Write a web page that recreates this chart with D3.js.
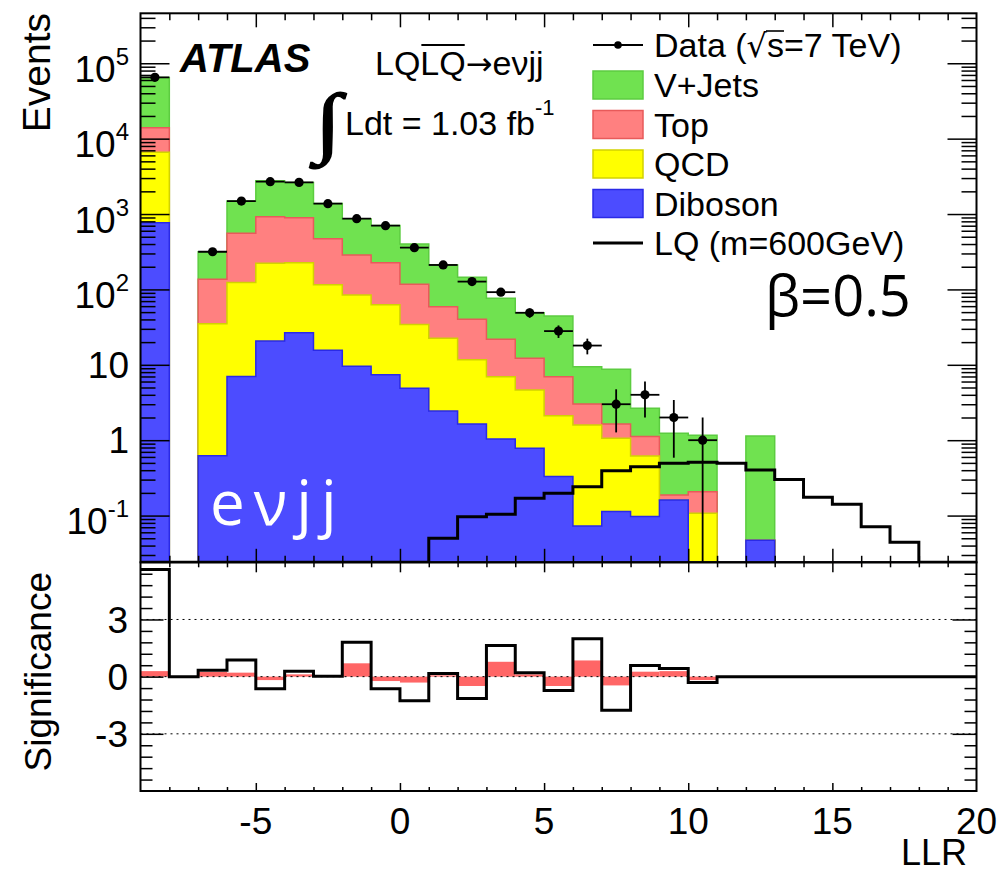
<!DOCTYPE html>
<html>
<head>
<meta charset="utf-8">
<script src="https://cdn.jsdelivr.net/npm/d3@7"></script>
<style>
  body { margin: 0; background: #fff; }
  text { font-family: "Liberation Sans", Arial, Helvetica, sans-serif; fill: #000; }
</style>
</head>
<body>
<div id="chart"></div>
<script>
const width = 999;
const height = 873;

// lower edge of each LLR bin (bins are 1 unit wide, last one ends at 20)
const binLow = [-9, -8, -7, -6, -5, -4, -3, -2, -1, 0, 1, 2, 3, 4, 5, 6, 7, 8, 9, 10,
                11, 12, 13, 14, 15, 16, 17, 18, 19];

// background expectations per bin (events)
const diboson = [767, 0, 0.62, 7.0, 20.7, 26.7, 15.6, 9.55, 7.4, 4.88, 2.44, 1.64, 1.04, 0.78, 0.33,
                 0.073, 0.113, 0.097, 0.161, 0, 0, 0.047, 0, 0, 0, 0, 0, 0, 0];
const qcd     = [5810, 0, 34.5, 117, 201, 199, 100, 74.8, 55.3, 29.5, 20.0, 10.0, 5.9, 3.85, 1.78,
                 1.52, 0.95, 0.52, 0, 0.107, 0, 0, 0, 0, 0, 0, 0, 0, 0];
const topBkg  = [7380, 0, 101, 430, 699, 668, 355, 202, 163, 82.6, 36.6, 28.5, 14.9, 7.6, 4.84,
                 1.43, 0.58, 0.50, 0.027, 0.10, 0, 0, 0, 0, 0, 0, 0, 0, 0];
const vjets   = [51000, 0, 180, 933, 1847, 1736, 914, 572, 481, 283, 152, 105, 54.4, 36.9, 37.5,
                 6.4, 7.1, 1.54, 1.05, 0.96, 0, 1.09, 0, 0, 0, 0, 0, 0, 0];

// observed events
const dataCounts = [65000, 0, 316, 1487, 2685, 2630, 1371, 867, 700, 358, 211, 127, 92, 49, 28,
                    18, 3, 4, 2, 1, 0, 0, 0, 0, 0, 0, 0, 0, 0];

// LQ signal, m = 600 GeV
const lqSignal = [0, 0, 0, 0, 0, 0, 0, 0, 0, 0, 0.050, 0.0968, 0.104, 0.170, 0.198,
                  0.242, 0.394, 0.446, 0.493, 0.508, 0.493, 0.403, 0.30, 0.175, 0.141,
                  0.0713, 0.0442, 0, 0];

// significance panel
const significance = [5.62, 0, 0.33, 0.87, -0.63, 0.28, 0.02, 1.81, -0.63, -1.26, 0.16, -1.15, 1.64, 0.20,
                      -0.73, 1.99, -1.76, 0.59, 0.43, -0.31, 0, 0, 0, 0, 0, 0, 0, 0, 0];
const sigBand      = [0.29, 0, 0.25, 0.21, -0.18, 0.12, 0.03, 0.70, -0.23, -0.31, 0.07, -0.49, 0.78, 0.12,
                      -0.49, 0.85, -0.46, 0.26, 0.29, -0.18, 0, 0, 0, 0, 0, 0, 0, 0, 0];

const xLabels = [-5, 0, 5, 10, 15, 20];
const logLabels = [
  { v: 0.1, base: "10", sup: "-1" },
  { v: 1, base: "1" },
  { v: 10, base: "10" },
  { v: 100, base: "10", sup: "2" },
  { v: 1000, base: "10", sup: "3" },
  { v: 10000, base: "10", sup: "4" },
  { v: 100000, base: "10", sup: "5" }
];
const sigLabels = [3, 0, -3];

const legendRows = [
  { label: "Data", kind: "data" },
  { label: "V+Jets", key: "vjets" },
  { label: "Top", key: "top" },
  { label: "QCD", key: "qcd" },
  { label: "Diboson", key: "diboson" },
  { label: "LQ (m=600GeV)", kind: "line" }
];

const fills   = { vjets: "#70e250", top: "#ff8080", qcd: "#ffff00", diboson: "#4c4cff" };
const strokes = { vjets: "#5ccc40", top: "#e85a5a", qcd: "#d2d200", diboson: "#2a2ae6" };

// frame geometry
const fL = 140.5, fR = 976.5, fT = 13.3, fM = 562.3, fB = 791;

const svg = d3.select("#chart").append("svg")
    .attr("width", width)
    .attr("height", height);

svg.append("rect").attr("width", width).attr("height", height).attr("fill", "#fff");

const x = d3.scaleLinear().domain([-9, 20]).range([fL, fR]);
const y = d3.scaleLog().domain([0.024, 4.6e5]).range([fM, fT]).clamp(true);
const ys = d3.scaleLinear().domain([-6, 6]).range([fB, fM]);
const yv = v => v > 0 ? y(v) : fM;

svg.append("clipPath").attr("id", "clipTop")
  .append("rect").attr("x", fL).attr("y", fT).attr("width", fR - fL).attr("height", fM - fT);
svg.append("clipPath").attr("id", "clipBot")
  .append("rect").attr("x", fL).attr("y", fM).attr("width", fR - fL).attr("height", fB - fM);

const upper = svg.append("g").attr("clip-path", "url(#clipTop)");
const lower = svg.append("g").attr("clip-path", "url(#clipBot)");

// step points: one per bin plus closing edge at 20
const stepPts = vals => binLow.map((b, i) => [b, vals[i]]).concat([[20, vals[vals.length - 1]]]);

// stacked backgrounds
const table = binLow.map((b, i) => ({
  b, diboson: diboson[i], qcd: qcd[i], top: topBkg[i], vjets: vjets[i]
}));
const stacked = d3.stack().keys(["diboson", "qcd", "top", "vjets"])(table);

const area = d3.area()
    .curve(d3.curveStepAfter)
    .x(d => x(d[0]))
    .y0(fM)
    .y1(d => yv(d[1]));

stacked.slice().reverse().forEach(s => {
  const cum = s.map(d => d[1] > 1e-9 ? d[1] : 0);
  upper.append("path")
    .datum(stepPts(cum))
    .attr("d", area)
    .attr("fill", fills[s.key])
    .attr("stroke", strokes[s.key])
    .attr("stroke-width", 1.5);
});

// channel label inside the plot
upper.append("text")
  .attr("x", 210).attr("y", 525)
  .style("font-family", "'Open Sans', 'Noto Sans', sans-serif")
  .style("fill", "#fff")
  .style("letter-spacing", "9px")
  .attr("font-size", 62)
  .text("eνjj");

// LQ signal outline
const line = d3.line().curve(d3.curveStepAfter).x(d => x(d[0])).y(d => yv(d[1]));
upper.append("path")
  .datum(stepPts(lqSignal))
  .attr("d", line)
  .attr("fill", "none")
  .attr("stroke", "#000")
  .attr("stroke-width", 3);

// data points with poisson errors
const pts = binLow.map((b, i) => ({ b, n: dataCounts[i] })).filter(d => d.n > 0);
const dataG = upper.append("g");
dataG.selectAll(".xerr").data(pts).enter().append("line")
  .attr("x1", d => x(d.b)).attr("x2", d => x(d.b + 1))
  .attr("y1", d => y(d.n)).attr("y2", d => y(d.n))
  .attr("stroke", "#000").attr("stroke-width", 1.8);
dataG.selectAll(".yerr").data(pts).enter().append("line")
  .attr("x1", d => x(d.b + 0.5)).attr("x2", d => x(d.b + 0.5))
  .attr("y1", d => y(d.n + Math.sqrt(d.n))).attr("y2", d => yv(d.n - Math.sqrt(d.n)))
  .attr("stroke", "#000").attr("stroke-width", 1.8);
dataG.selectAll("circle").data(pts).enter().append("circle")
  .attr("cx", d => x(d.b + 0.5)).attr("cy", d => y(d.n))
  .attr("r", 4.6).attr("fill", "#000");

// lower panel: band, reference lines, significance outline
binLow.forEach((b, i) => {
  const v = sigBand[i];
  if (v === 0) return;
  lower.append("rect")
    .attr("x", x(b)).attr("width", x(b + 1) - x(b))
    .attr("y", ys(Math.max(0, v))).attr("height", Math.abs(ys(v) - ys(0)))
    .attr("fill", "#ff6666");
});
[-3, 0, 3].forEach(v => {
  lower.append("line")
    .attr("x1", fL).attr("x2", fR).attr("y1", ys(v)).attr("y2", ys(v))
    .attr("stroke", "#000").attr("stroke-width", 1).attr("stroke-dasharray", "2,4");
});
const sigLine = d3.line().curve(d3.curveStepAfter).x(d => x(d[0])).y(d => ys(d[1]));
lower.append("path")
  .datum(stepPts(significance))
  .attr("d", sigLine)
  .attr("fill", "none")
  .attr("stroke", "#000")
  .attr("stroke-width", 3);

// ticks
function ticks(gen, tx, ty, vals, size) {
  svg.append("g")
    .attr("transform", `translate(${tx},${ty})`)
    .call(gen.tickValues(vals).tickSize(size).tickFormat(""))
    .call(g => g.select(".domain").remove())
    .selectAll("line").attr("stroke", "#000").attr("stroke-width", 1.5);
}
const xMajor = [-5, 0, 5, 10, 15];
const xMinor = x.ticks(29).filter(v => v % 5 !== 0 && v > -9 && v < 20);
const logAll = y.ticks();
const logMajor = logAll.filter(v => Math.abs(Math.log10(v) - Math.round(Math.log10(v))) < 1e-6);
const logMinor = logAll.filter(v => !logMajor.includes(v));
const sigMajor = [-3, 0, 3];
const sigMinor = d3.range(-9, 10).map(k => +(k * 0.6).toFixed(1)).filter(v => !sigMajor.includes(v));

ticks(d3.axisBottom(x), 0, fM, xMajor, -13.5);
ticks(d3.axisBottom(x), 0, fM, xMinor, -6.5);
ticks(d3.axisTop(x), 0, fT, xMajor, -14);
ticks(d3.axisTop(x), 0, fT, xMinor, -7);
ticks(d3.axisLeft(y), fL, 0, logMajor, -29);
ticks(d3.axisLeft(y), fL, 0, logMinor, -15);
ticks(d3.axisRight(y), fR, 0, logMajor, -29);
ticks(d3.axisRight(y), fR, 0, logMinor, -15);

ticks(d3.axisTop(x), 0, fM, xMajor, -10);
ticks(d3.axisTop(x), 0, fM, xMinor, -5);
ticks(d3.axisBottom(x), 0, fB, xMajor, -8);
ticks(d3.axisBottom(x), 0, fB, xMinor, -4);
ticks(d3.axisLeft(ys), fL, 0, sigMajor, -23);
ticks(d3.axisLeft(ys), fL, 0, sigMinor, -12);
ticks(d3.axisRight(ys), fR, 0, sigMajor, -24);
ticks(d3.axisRight(ys), fR, 0, sigMinor, -12);

// frames
svg.append("rect").attr("x", fL).attr("y", fT).attr("width", fR - fL).attr("height", fM - fT)
  .attr("fill", "none").attr("stroke", "#000").attr("stroke-width", 2);
svg.append("rect").attr("x", fL).attr("y", fM).attr("width", fR - fL).attr("height", fB - fM)
  .attr("fill", "none").attr("stroke", "#000").attr("stroke-width", 2);

// tick labels
logLabels.forEach(d => {
  const t = svg.append("text")
    .attr("x", 129)
    .attr("y", y(d.v) + (d.sup ? 18.5 : 13.3))
    .attr("text-anchor", "end")
    .attr("font-size", 37);
  t.append("tspan").text(d.base);
  if (d.sup) t.append("tspan").attr("dy", -17).attr("font-size", 24).text(d.sup);
});
sigLabels.forEach(v => {
  svg.append("text")
    .attr("x", 128).attr("y", ys(v) + 13.3)
    .attr("text-anchor", "end").attr("font-size", 37)
    .text(v);
});
xLabels.forEach(v => {
  svg.append("text")
    .attr("x", x(v)).attr("y", 834)
    .attr("text-anchor", "middle").attr("font-size", 37)
    .text(v);
});

// axis titles
svg.append("text").attr("transform", "translate(50,13) rotate(-90)")
  .attr("text-anchor", "end").attr("font-size", 39).text("Events");
svg.append("text").attr("transform", "translate(51,572) rotate(-90)")
  .attr("text-anchor", "end").attr("font-size", 37).text("Significance");
svg.append("text").attr("x", 967).attr("y", 865)
  .attr("text-anchor", "end").attr("font-size", 36).text("LLR");

// ATLAS label and process
svg.append("text").attr("x", 180).attr("y", 72)
  .attr("font-size", 40).attr("font-weight", "bold").attr("font-style", "italic").text("ATLAS");

const proc = svg.append("text").attr("x", 375).attr("y", 75).attr("font-size", 34);
proc.append("tspan").text("LQ");
proc.append("tspan").text("LQ");
proc.append("tspan").style("font-family", "'DejaVu Sans', sans-serif").attr("font-size", 32).text("→");
proc.append("tspan").text("eνjj");
{
  const node = proc.node();
  const x0 = node.getStartPositionOfChar(2).x;
  const x1 = node.getEndPositionOfChar(3).x;
  svg.append("line").attr("x1", x0 + 1).attr("x2", x1 - 1).attr("y1", 45).attr("y2", 45)
    .attr("stroke", "#000").attr("stroke-width", 2.2);
}

svg.append("text").attr("transform", "translate(315,148) scale(1.25,1)")
  .style("font-family", "'Liberation Serif', 'DejaVu Serif', serif")
  .style("stroke", "#000").style("stroke-width", 1.4)
  .attr("font-size", 78).text("∫");
const lumi = svg.append("text").attr("x", 345).attr("y", 135).attr("font-size", 34);
lumi.append("tspan").text("Ldt = 1.03 fb");
lumi.append("tspan").attr("dy", -20).attr("font-size", 22).text("-1");

svg.append("text").attr("x", 765).attr("y", 316)
  .style("font-family", "'Open Sans', 'Noto Sans', sans-serif")
  .attr("font-size", 56).text("β=0.5");

// legend
const legend = svg.append("g");
const rowY = [45, 85, 124.5, 164, 203.5, 243];
legendRows.forEach((r, i) => {
  const cy = rowY[i];
  if (r.kind === "data") {
    legend.append("line").attr("x1", 593).attr("x2", 643).attr("y1", cy).attr("y2", cy)
      .attr("stroke", "#000").attr("stroke-width", 1.8);
    legend.append("circle").attr("cx", 618).attr("cy", cy).attr("r", 3.8).attr("fill", "#000");
  } else if (r.kind === "line") {
    legend.append("line").attr("x1", 593).attr("x2", 643).attr("y1", cy).attr("y2", cy)
      .attr("stroke", "#000").attr("stroke-width", 3);
  } else {
    legend.append("rect").attr("x", 593).attr("y", cy - 14).attr("width", 50).attr("height", 28)
      .attr("fill", fills[r.key]).attr("stroke", strokes[r.key]).attr("stroke-width", 1.5);
  }
  const t = legend.append("text").attr("x", 654).attr("y", cy + 12).attr("font-size", 34);
  if (r.kind === "data") {
    t.append("tspan").text("Data (");
    t.append("tspan").style("font-family", "'DejaVu Sans', sans-serif").attr("font-size", 32).text("√");
    t.append("tspan").text("s");
    t.append("tspan").text("=7 TeV)");
    const node = t.node();
    const n0 = "Data (√".length;
    const xa = node.getEndPositionOfChar(n0 - 1).x - 1;
    const xb = node.getEndPositionOfChar(n0).x;
    legend.append("line").attr("x1", xa).attr("x2", xb).attr("y1", cy - 14).attr("y2", cy - 14)
      .attr("stroke", "#000").attr("stroke-width", 1.6);
  } else {
    t.text(r.label);
  }
});
</script>
</body>
</html>
